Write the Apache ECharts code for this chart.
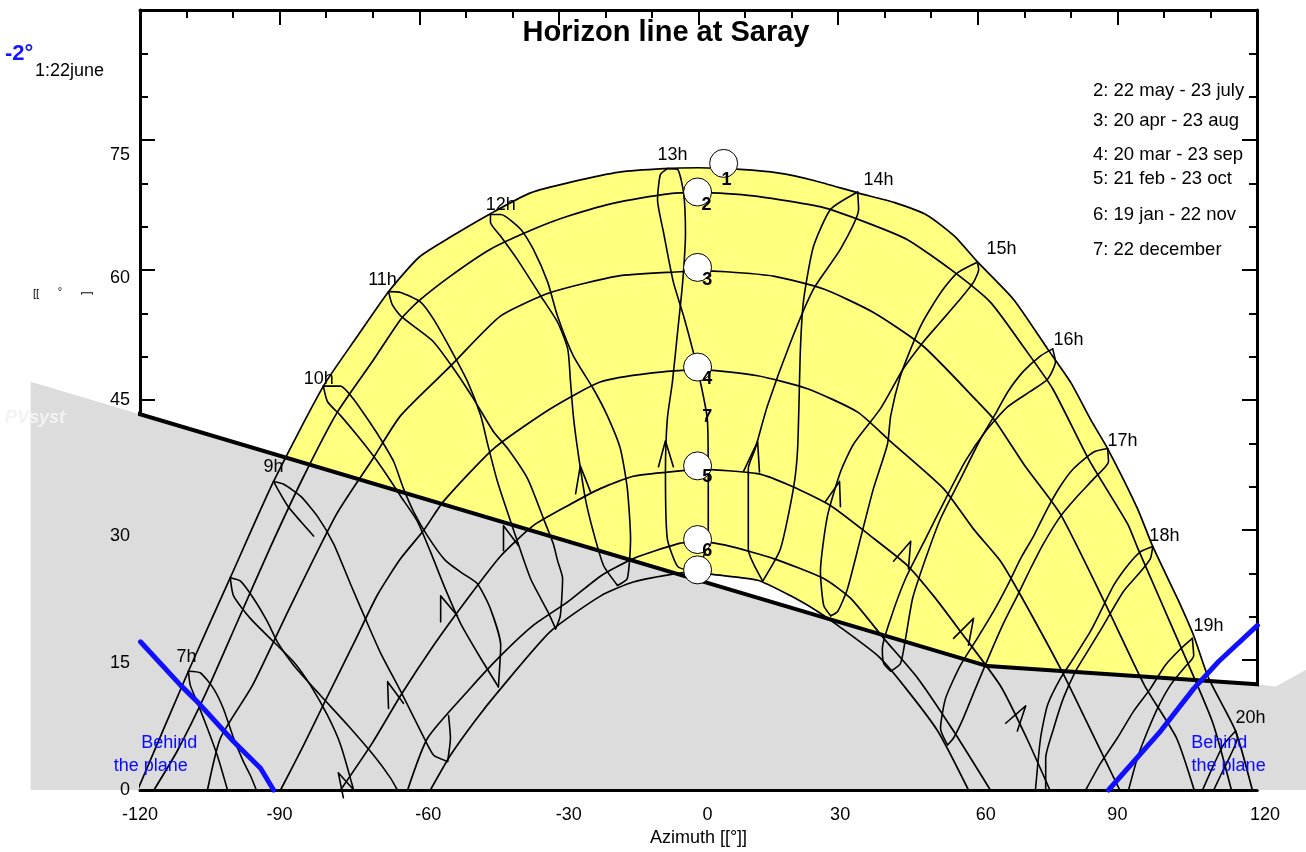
<!DOCTYPE html>
<html><head><meta charset="utf-8">
<script src="https://cdn.jsdelivr.net/npm/echarts@6/dist/echarts.min.js"></script>
<style>html,body{margin:0;padding:0;background:#fff}#c{width:1306px;height:852px}</style>
</head><body><div id="c"></div>
<script>
// ---- tick labels ----
const azimuthTicks = [-120, -90, -60, -30, 0, 30, 60, 90, 120];
const heightTicks = [0, 15, 30, 45, 60, 75];

// ---- date curves [azimuth, height] ----
const date1 = [[-120.5,0],[-109.6,13.7],[-100.6,24.5],[-91.3,35.6],[-80.6,46.6],[-73.5,52.2],[-66.6,57.5],[-60,61.5],[-53.3,63.8],[-44.7,66.5],[-36.1,68.9],[-27,70.2],[-17,71.3],[-7.5,71.7],[0,71.8],[9,71.6],[17,71.2],[25,70.3],[34.2,68.9],[42,67.8],[49.2,66.3],[55,63.9],[60,60.9],[67.7,56.6],[75,50.9],[80,47],[84.2,42.8],[87.9,39.4],[94.3,32.5],[97.6,28.1],[102.9,22.1],[106.4,17.8],[109.6,12.9],[115.4,6.8],[119,0]];
const date2 = [[-117,0],[-112,4.5],[-106,11],[-99,19.5],[-92,28],[-85,36],[-77.6,43.6],[-70,49.5],[-64,54.3],[-60.4,56.3],[-53.3,59.3],[-44.7,62.4],[-35.5,64.7],[-28.1,66.2],[-17.4,67.8],[-3.9,68.9],[2.6,68.9],[12.7,68.5],[26.9,67.2],[36,65.5],[44.9,63.5],[54.1,60.1],[62.7,56.3],[70,51],[76.1,46.3],[84,38],[92.2,30.7],[94.3,28],[102,18.5],[110.4,7.9],[114.5,0]];
const date3 = [[-105.5,0],[-102.7,6],[-95.8,12.1],[-88.3,20.5],[-77.8,31.8],[-70,38.2],[-64,43.2],[-53.3,48.9],[-42.5,54.7],[-31.8,57.4],[-17.4,59.3],[-3.9,59.8],[0,59.9],[6,59.8],[16.1,59.3],[26.9,57.8],[37.6,55.1],[48.3,51.2],[60,44.8],[63.6,42.7],[70,37.5],[77.8,31.8],[88.3,20.5],[95.8,12.1],[102.7,6],[106.5,0]];
const date4 = [[-89.8,0],[-85,5],[-80,10.5],[-74,17],[-69,22.5],[-64,26.7],[-59,30],[-54.8,33.3],[-44,39.4],[-31.8,44],[-21,47.1],[-10.3,48.1],[0,48.5],[12.7,47.8],[23.4,46.3],[34.2,43.6],[41.3,40.2],[52.6,34.8],[59.1,30.1],[64.9,26.4],[69.6,22.1],[77.8,14],[83.2,8.1],[90.5,0]];
const date5 = [[-76.9,0],[-70,5.5],[-64,10.9],[-56.9,16.7],[-49.6,22.1],[-42.5,27],[-35.5,30.5],[-28.1,32.8],[-21,34.8],[-14,36.2],[-4.5,36.8],[0,37],[12.7,36.5],[19.8,35.1],[28.4,32.8],[37,29.3],[44.9,25.9],[50.5,22.4],[56,18.5],[64.9,12],[70.5,6],[75.5,0]];
const date6 = [[-62.5,0],[-58.2,6],[-49.6,11.4],[-42.5,15.5],[-35.5,19],[-28.1,21.7],[-21,24.7],[-14,26.7],[-4.5,28.4],[0,28.7],[6.2,28.2],[16.1,26.7],[26.9,24.4],[32.7,22.1],[39.8,17.5],[47.1,12.9],[54.8,6.8],[62.7,0]];
const date7 = [[-57.6,0],[-53.3,4],[-48,8],[-42.5,11.7],[-31.8,18.3],[-21,22.4],[-14,24],[-4.5,25],[0,25.2],[2.6,24.9],[12.7,24.2],[19.8,22.4],[25.6,20.6],[29.9,19],[38.5,15.5],[44,12.1],[51.4,6.8],[58,0]];

// ---- hour lines ----
const h07a = [[-109.6,13.7],[-107,13.5],[-104.2,11.7],[-102.1,9.4],[-99.9,6],[-97.8,3.3],[-96.3,1.7],[-95,0]];
const h07b = [[-109.6,13.7],[-109.2,12.1],[-107.6,10],[-105.5,7.1],[-103.4,4],[-101.2,0]];
const h08a = [[-100.6,24.5],[-98.4,24.1],[-95.6,22.1],[-92.6,19.4],[-90.5,17.1],[-87,14.4],[-81.2,10.9],[-75.4,7.5],[-69.8,4],[-66.2,1.4],[-64.7,0]];
const h08b = [[-100.6,24.5],[-99.9,22.4],[-96.3,19.8],[-91.3,17.1],[-87,14.8],[-83.4,12.1],[-79.7,8.6],[-76.9,5.2],[-74.1,0]];
const h09a = [[-91.3,35.6],[-90.5,34.8],[-88.3,32.8],[-85.5,31],[-82.7,29.3]];
const h09b = [[-91.3,35.6],[-89.2,35.3],[-85.5,33.9],[-81.9,31.6],[-78.4,28.4],[-74.8,23.8],[-71.6,19.8],[-68.3,15.8],[-64,11.4],[-59.7,6.8],[-56.9,4],[-53.9,3.3]];
const h09c = [[-53.9,3.3],[-53.3,6],[-53.7,8.6]];
const h10a = [[-80.6,46.6],[-79.7,44.8],[-76.9,43.2],[-73.3,40.9],[-69.8,38.5],[-66.8,36.2],[-64,33.9],[-60.4,31],[-57.6,27.5],[-54.4,23.2],[-51.1,19.2],[-46.8,15.2],[-43,11.9]];
const h10b = [[-80.6,46.6],[-76.9,46.6],[-74.1,45.1],[-71.1,42.8],[-68.3,40.5],[-65.5,37.9],[-63.4,34.8],[-61.2,32.1],[-58.2,29.3],[-54.4,26.5],[-50.7,25],[-47.5,23.8],[-44.7,20.9],[-42.5,16.7],[-43,11.9]];
const h11a = [[-66.6,57.5],[-64,57.4],[-59.7,56.3],[-56.9,54.3],[-53.3,50.9],[-49.6,47.1],[-46.8,43.2],[-45.3,39.9],[-43.2,35.6],[-39.8,30.1],[-36.1,24.4],[-32.4,20.6],[-30.7,18.6]];
const h11b = [[-66.6,57.5],[-65.8,56],[-64,54.7],[-60.4,53.2],[-56.9,51.7],[-52.6,48.6],[-48.3,45.1],[-44,41.3],[-41,39.4],[-36.7,35.9],[-33.3,31.3],[-31.2,28.4],[-30.3,26.5],[-29.2,24.4],[-29.7,20.1],[-30.7,18.6]];
const h12a = [[-44.7,66.4],[-44.7,65.5],[-42.5,63.9],[-38.9,61.2],[-33.9,57],[-30.3,54],[-28.1,50.9],[-27.5,47.1],[-26.9,43.2],[-26,39.4],[-24.3,33.6],[-22.6,29.8],[-20.4,25.9],[-17.4,23.6]];
const h12b = [[-44.7,66.4],[-42.5,66.4],[-38.2,64.7],[-35.5,62.4],[-32.4,58.6],[-30.3,54.7],[-26.9,50.1],[-22.6,46.3],[-19.6,43.2],[-16.8,39.4],[-15.3,34.8],[-14.6,29],[-15.3,24.4],[-17.4,23.6]];
const h13a = [[-6.7,71.7],[-8.2,71],[-8.8,68.1],[-7.5,64.3],[-5.4,58.6],[-3.2,54.7],[-1.1,50.5],[0.4,47.1],[1.9,42.8],[2.1,35.9],[2.1,29],[0.4,26.1],[-1.7,25.3]];
const h13b = [[-6.7,71.7],[-4.5,71.6],[-3.2,68.9],[-2.8,64.3],[-3.4,58.6],[-4.5,52.8],[-5.6,47.1],[-6.7,42.8],[-7.1,36.7],[-6.7,29],[-4.5,25.8],[-1.7,25.3]];
const h14a = [[34.2,69],[28.4,67],[24.7,62.7],[22.6,56.6],[21.9,50.9],[21.3,39.4],[20.4,34.8],[17.6,27.8],[13.8,24.1]];
const h14b = [[34.2,69],[34.4,67],[30.5,62.4],[24.7,57.8],[19.8,51.7],[14.8,44.3],[12.2,39.4],[10.7,37.1],[10.7,27.8],[13.8,24.1]];
const h15a = [[59.9,60.9],[55.7,59.7],[52.6,57.8],[49.8,55.5],[47.7,53.5],[45.6,50.9],[43.4,47.8],[41.3,43.2],[40.6,39.9],[37.6,34.8],[34.8,29],[32,23.2],[29.9,20.6],[28.4,20.1]];
const h15b = [[59.9,60.9],[60.2,60.1],[59.1,58.6],[55.7,56.3],[52,54],[48.3,51.7],[44,48.6],[39.1,44],[33.3,39.9],[30.5,36.7],[27.7,31.6],[26.2,25.2],[26.9,21.3],[28.4,20.1]];
const h16a = [[76.1,50.9],[73.5,50.1],[69.8,48.3],[66.4,45.9],[63.8,43.4],[60.6,40.5],[56.3,35.9],[52,31.3],[48.8,26.7],[46,22.1],[44.5,17.5],[43.4,14.6],[41.3,13.7]];
const h16b = [[76.1,50.9],[76.7,49.4],[75,47.4],[71.3,46],[66.4,44.2],[61.7,41.4],[57.4,38],[53.1,33.6],[48.8,29],[44.5,24.4],[41.3,19.8],[39.5,16.3],[39.8,14.6],[41.3,13.7]];
const h17a = [[87.9,39.4],[84.9,39],[80.6,37.1],[77.8,35.1],[75,32.5],[72,29.3],[69.2,26.7],[66.4,23.6],[63.4,20.6],[59.9,17.5],[56.3,14.4],[53.1,10.6],[52,7.1],[53.5,5.2]];
const h17b = [[87.9,39.4],[88.1,37.9],[84.9,35.9],[81.4,33.9],[77.8,31.6],[74.1,28.4],[71.3,25.5],[68.5,22.4],[65.5,19.2],[62.7,15.8],[59.5,11.7],[56.9,8.3],[54.8,6],[53.5,5.2]];
const h18a = [[97.6,28.1],[95,27.5],[92.2,25.9],[89.2,23.6],[86.4,20.6],[84.2,18.3],[80.6,15.2],[77.8,12.9],[75,9.8],[73.5,6],[72.4,0]];
const h18b = [[97.6,28.1],[97.1,26.7],[95,25.2],[91.3,22.9],[87,19],[83.6,16],[81,13.7],[78.4,10.6],[76.3,7.1],[74.6,3.7],[74.6,0]];
const h19a = [[106.1,17.5],[103.6,16.3],[100.3,14.4],[97.1,11.7],[93.5,9.1],[90,6],[86.4,3.1],[83.2,0]];
const h19b = [[106.1,17.5],[106.4,15.5],[104.2,14],[101.4,12.1],[98.6,9.4],[96.5,6.8],[94.3,3.7],[92.4,0]];
const h20a = [[115.4,6.8],[112.8,5.2],[110.7,2.9],[108.3,0]];
const h20b = [[115.4,6.8],[115.8,6],[114.3,4],[112.2,1.7],[110.7,0]];

// ---- direction arrows (leg, apex, leg) ----
const arrowMarks = [
  [[-76.3,-0.9],[-77.4,2],[-74.4,0.2]],
  [[-66.6,9.4],[-66.8,12.5],[-63.4,10]],
  [[-55.4,19.4],[-55.4,22.4],[-51.8,20.1]],
  [[-41.9,27.6],[-41.9,30.5],[-38.7,28.2]],
  [[-26.4,34.2],[-25.4,37.4],[-23.2,34.4]],
  [[-8.6,37.3],[-7.1,40.3],[-5.4,37.3]],
  [[9.7,36.8],[12.7,40.2],[13.1,36.7]],
  [[27.3,33.3],[30.3,35.6],[30.5,32.7]],
  [[41.9,26.4],[45.6,28.7],[45.1,25.5]],
  [[54.8,17.5],[59.1,19.8],[58,16.7]],
  [[66,7.7],[70.3,9.7],[68.5,6.8]]
];

// ---- horizon & "behind the plane" limits ----
const horizon = [[-143.5,47.1],[62.1,14.3],[120,12.2],[124,11.9],[130.6,13.9]];
const blueLeft = [[-119.9,17.1],[-111.3,12.1],[-107,9.8],[-99.9,5.6],[-94.1,2.5],[-91.3,0]];
const blueRight = [[88.1,0],[99.3,6.8],[106.4,11.7],[111.7,14.8],[120.1,19]];

// ---- noon circles and labels ----
const noonCircles = [[5.4,72.3],[-0.2,69],[-0.2,60.3],[-0.2,48.8],[-0.2,37.4],[-0.2,28.9],[-0.2,25.4]];
const noonNumbers = [['1',6,70.4],['2',1.7,67.5],['3',1.9,58.9],['4',1.9,47.4],['7',1.9,43],['5',1.9,36.1],['6',1.9,27.6]];
const hourLabels = [['7h',-110,15.4],['9h',-91.3,37.3],['10h',-81.6,47.4],['11h',-67.9,58.9],['12h',-42.5,67.5],['13h',-5.6,73.3],['14h',38.7,70.4],['15h',65.1,62.4],['16h',79.5,51.9],['17h',91.1,40.3],['18h',100.1,29.3],['19h',109.6,18.9],['20h',118.6,8.3]];
const behindLabels = [['Behind',-113.7,5.4],['the plane',-117.7,2.8],['Behind',111.9,5.4],['the plane',113.9,2.8]];
const legendLines = ['2: 22 may - 23 july','3: 20 apr - 23 aug','4: 20 mar - 23 sep','5: 21 feb - 23 oct','6: 19 jan - 22 nov','7: 22 december'];

const FONT = '"Liberation Sans", Arial, Helvetica, sans-serif';

function polySeries(points, color, z) {
  return {
    type: 'custom', coordinateSystem: 'cartesian2d', clip: false, silent: true, z: z,
    data: [[0, 0]],
    renderItem: function (params, api) {
      return { type: 'polygon', shape: { points: points.map(function (p) { return api.coord(p); }) }, style: { fill: color } };
    }
  };
}
function lineSeries(pts, color, width, z, smooth) {
  return {
    type: 'line', data: pts, showSymbol: false, symbol: 'none', clip: false, silent: true,
    smooth: smooth || false, z: z,
    lineStyle: { color: color, width: width, cap: 'round', join: 'round', opacity: 1 }
  };
}
function textScatter(items, color, size, weight, z) {
  return {
    type: 'scatter', symbolSize: 0, silent: true, z: z, clip: false,
    itemStyle: { opacity: 1 },
    data: items.map(function (t) { return { name: t[0], value: [t[1], t[2]] }; }),
    label: { show: true, position: 'inside', formatter: '{b}', color: color, opacity: 1,
      fontSize: size, fontWeight: weight, fontFamily: FONT, textBorderWidth: 0 }
  };
}

const series = [];
series.push(polySeries(date1.concat(date7.slice().reverse()), '#ffff80', 1));
series.push(polySeries(horizon.concat([[130.6, 0], [-143.5, 0]]), '#dcdcdc', 2));
[date1, date2, date3, date4, date5, date6, date7].forEach(function (c) { series.push(lineSeries(c, '#000', 1.7, 3, 0.2)); });
[h07a,h07b,h08a,h08b,h09a,h09b,h09c,h10a,h10b,h11a,h11b,h12a,h12b,h13a,h13b,h14a,h14b,h15a,h15b,h16a,h16b,h17a,h17b,h18a,h18b,h19a,h19b,h20a,h20b]
  .forEach(function (c) { series.push(lineSeries(c, '#000', 1.6, 3, 0.2)); });
arrowMarks.forEach(function (a) { series.push(lineSeries(a, '#000', 1.6, 3, false)); });
series.push(lineSeries(horizon, '#000', 4, 5, false));
series.push(lineSeries(blueLeft, '#1010ff', 5, 6, false));
series.push(lineSeries(blueRight, '#1010ff', 5, 6, false));
series.push({
  type: 'scatter', data: noonCircles, symbol: 'circle', symbolSize: 28, silent: true, z: 7, clip: false,
  itemStyle: { color: '#ffffff', borderColor: '#000', borderWidth: 1, opacity: 1 }
});
series.push(textScatter(noonNumbers, '#000', 18, 'bold', 8));
series.push(textScatter(hourLabels, '#000', 18, 'normal', 8));
series.push(textScatter(behindLabels, '#0a0aff', 18, 'normal', 8));

// small per-label nudges so tick labels sit where the reference prints them
const azRich = { s0: {}, s4: { padding: [0, 0, 0, 4] }, s16: { padding: [0, 0, 0, 16] }, s18: { padding: [0, 0, 0, 18] }, s20: { padding: [0, 0, 0, 20] } };
const azNudge = { '-120': 's0', '-90': 's0', '-60': 's18', '-30': 's20', '0': 's18', '30': 's4', '60': 's16', '90': 's0', '120': 's16' };
const elRich = { e0: {}, e6: { padding: [6, 0, 0, 0] }, e12: { padding: [12, 0, 0, 0] }, e16: { padding: [16, 0, 0, 0] }, e30: { padding: [30, 0, 0, 0] } };
const elNudge = { '0': 'e0', '15': 'e6', '30': 'e12', '45': 'e0', '60': 'e16', '75': 'e30' };

const tickStyle = { color: '#000', width: 2 };
const option = {
  animation: false,
  backgroundColor: '#ffffff',
  grid: { left: 140, right: 49, top: 10, bottom: 60, containLabel: false },
  xAxis: [
    {
      type: 'value', min: -120, max: 120, interval: 30, position: 'bottom', z: 6,
      axisLine: { show: true, onZero: false, lineStyle: { color: '#000', width: 3 } },
      axisTick: { show: false }, minorTick: { show: false },
      splitLine: { show: false }, minorSplitLine: { show: false },
      axisLabel: { color: '#000', fontSize: 18, fontFamily: FONT, margin: 16, rich: azRich,
        formatter: function (v) { return azimuthTicks.indexOf(v) >= 0 ? '{' + azNudge[String(v)] + '|' + v + '}' : ''; } },
      name: 'Azimuth [[°]]', nameLocation: 'middle', nameGap: 39,
      nameTextStyle: { color: '#000', fontSize: 18, fontFamily: FONT }
    },
    {
      type: 'value', min: -120, max: 120, interval: 30, position: 'top', z: 0,
      axisLine: { show: true, onZero: false, lineStyle: { color: '#000', width: 3 } },
      axisTick: { show: true, inside: true, length: 15, lineStyle: tickStyle },
      minorTick: { show: true, splitNumber: 3, length: 8, lineStyle: tickStyle },
      axisLabel: { show: false }, splitLine: { show: false }, minorSplitLine: { show: false }
    }
  ],
  yAxis: [
    {
      type: 'value', min: 0, max: 90, interval: 15, position: 'left', z: 0,
      axisLine: { show: true, onZero: false, lineStyle: { color: '#000', width: 3 } },
      axisTick: { show: true, inside: true, length: 15, lineStyle: tickStyle },
      minorTick: { show: true, splitNumber: 3, length: 8, lineStyle: tickStyle },
      axisLabel: { show: false }, splitLine: { show: false }, minorSplitLine: { show: false }
    },
    {
      type: 'value', min: 0, max: 90, interval: 15, position: 'right', z: 0,
      axisLine: { show: true, onZero: false, lineStyle: { color: '#000', width: 3 } },
      axisTick: { show: true, inside: true, length: 15, lineStyle: tickStyle },
      minorTick: { show: true, splitNumber: 3, length: 8, lineStyle: tickStyle },
      axisLabel: { show: false }, splitLine: { show: false }, minorSplitLine: { show: false }
    },
    {
      type: 'value', min: 0, max: 90, interval: 15, position: 'left', z: 6,
      axisLine: { show: false, onZero: false }, axisTick: { show: false }, minorTick: { show: false },
      splitLine: { show: false },
      axisLabel: { color: '#000', fontSize: 18, fontFamily: FONT, margin: 10, rich: elRich,
        formatter: function (v) { return heightTicks.indexOf(v) >= 0 ? '{' + elNudge[String(v)] + '|' + v + '}' : ''; } }
    }
  ],
  graphic: [
    { type: 'text', x: 666, y: 33, z: 10, style: { text: 'Horizon line at Saray', font: 'bold 29px ' + FONT, fill: '#000', align: 'center', verticalAlign: 'middle' } },
    { type: 'text', x: 5, y: 54, z: 10, style: { text: '-2°', font: 'bold 22px ' + FONT, fill: '#1414ff', align: 'left', verticalAlign: 'middle' } },
    { type: 'text', x: 35, y: 71, z: 10, style: { text: '1:22june', font: '18px ' + FONT, fill: '#000', align: 'left', verticalAlign: 'middle' } },
    { type: 'text', x: 5, y: 418, z: 10, style: { text: 'PVsyst', font: 'italic bold 18px ' + FONT, fill: '#f3f3f3', align: 'left', verticalAlign: 'middle' } },
    { type: 'text', x: 36, y: 294, z: 10, style: { text: '[[', font: '11px ' + FONT, fill: '#000', align: 'center', verticalAlign: 'middle' } },
    { type: 'text', x: 60, y: 292, z: 10, style: { text: '°', font: '11px ' + FONT, fill: '#000', align: 'center', verticalAlign: 'middle' } },
    { type: 'text', x: 87, y: 293, z: 10, rotation: Math.PI / 2, style: { text: ']', font: '12px ' + FONT, fill: '#000', align: 'center', verticalAlign: 'middle' } }
  ].concat(legendLines.map(function (t, i) {
    const ys = [91, 121, 155, 179, 215, 250];
    return { type: 'text', x: 1093, y: ys[i], z: 10, style: { text: t, font: '18.5px ' + FONT, fill: '#000', align: 'left', verticalAlign: 'middle' } };
  })),
  series: series
};

const chart = echarts.init(document.getElementById('c'), null, { renderer: 'canvas' });
chart.setOption(option);
</script>
</body></html>
